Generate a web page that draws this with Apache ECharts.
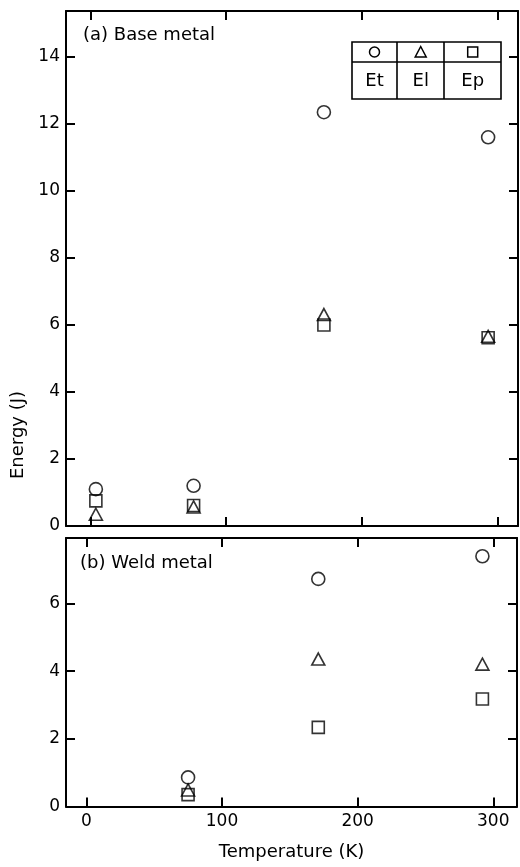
<!DOCTYPE html>
<html><head><meta charset="utf-8">
<script src="https://cdn.jsdelivr.net/npm/echarts@6/dist/echarts.min.js"></script>
<style>html,body{margin:0;padding:0;background:#fff}#c{width:520px;height:867px}</style>
</head><body><div id="c"></div>
<script>
// ---- data ----
const tempsA = [4, 76, 172, 293];          // (a) Base metal, temperature (K)
const EtA    = [1.1, 1.2, 12.35, 11.6];
const ElA    = [0.35, 0.57, 6.31, 5.66];
const EpA    = [0.75, 0.61, 6.0, 5.62];
const tempsB = [75, 171, 292];             // (b) Weld metal
const EtB    = [0.86, 6.73, 7.4];
const ElB    = [0.49, 4.36, 4.21];
const EpB    = [0.35, 2.34, 3.18];
const xTickStep = 100;
const yTickStepA = 2;
const yTickStepB = 2;
const legendNames = ['Et', 'El', 'Ep'];

const FONT = 'DejaVu Sans';
const pair = (xs, ys) => xs.map((x, i) => [x, ys[i]]);
const isMul = (v, s) => Math.abs(v / s - Math.round(v / s)) < 1e-6;

const lineStyle = {color: '#000', width: 2};
function xAx(grid, pos, min, max, showLabel, extra) {
  return Object.assign({
    type: 'value', gridIndex: grid, position: pos, min, max,
    splitNumber: 3, minInterval: xTickStep, maxInterval: xTickStep,
    axisLine: {show: true, onZero: false, lineStyle},
    axisTick: {show: true, inside: true, length: 9, lineStyle},
    axisLabel: {show: showLabel, color: '#000', fontFamily: FONT, fontSize: 17, margin: 7,
      formatter: v => isMul(v, xTickStep) ? String(Math.round(v)) : ''},
    splitLine: {show: false}
  }, extra || {});
}
function yAx(grid, pos, min, max, step, showLabel) {
  return {
    type: 'value', gridIndex: grid, position: pos, min, max, interval: step,
    axisLine: {show: true, onZero: false, lineStyle},
    axisTick: {show: true, inside: true, length: 9, lineStyle},
    axisLabel: {show: showLabel, color: '#000', fontFamily: FONT, fontSize: 17, margin: 6,
      formatter: v => isMul(v, step) ? String(Math.round(v)) : ''},
    splitLine: {show: false}
  };
}
const mk = {color: 'rgba(0,0,0,0)', borderColor: '#000', borderWidth: 1.6};
function sc(name, sym, size, data, xi, yi) {
  return {type: 'scatter', name, symbol: sym, symbolSize: size, data,
    xAxisIndex: xi, yAxisIndex: yi, itemStyle: mk, silent: true, animation: false};
}
const symSize = {circle: 13, triangle: [13, 12], rect: 12};

const legendX = [374.5, 420.7, 472.7];
const legendChildren = [
  {type: 'rect', shape: {x: 352, y: 42, width: 149, height: 57}, style: {fill: 'none', stroke: '#000', lineWidth: 1.6}},
  {type: 'line', shape: {x1: 352, y1: 62, x2: 501, y2: 62}, style: {stroke: '#000', lineWidth: 1.6}},
  {type: 'line', shape: {x1: 397, y1: 42, x2: 397, y2: 99}, style: {stroke: '#000', lineWidth: 1.6}},
  {type: 'line', shape: {x1: 444, y1: 42, x2: 444, y2: 99}, style: {stroke: '#000', lineWidth: 1.6}},
  {type: 'circle', shape: {cx: legendX[0], cy: 52, r: 5}, style: {fill: 'none', stroke: '#000', lineWidth: 1.5}},
  {type: 'polygon', shape: {points: [[legendX[1], 46.5], [legendX[1] - 5.5, 57], [legendX[1] + 5.5, 57]]}, style: {fill: 'none', stroke: '#000', lineWidth: 1.5}},
  {type: 'rect', shape: {x: legendX[2] - 5, y: 47, width: 10, height: 10}, style: {fill: 'none', stroke: '#000', lineWidth: 1.5}}
];
legendNames.forEach((n, i) => legendChildren.push({type: 'text', x: legendX[i], y: 81,
  style: {text: n, fill: '#000', font: '18px "' + FONT + '"', align: 'center', verticalAlign: 'middle'}}));

const option = {
  backgroundColor: '#fff',
  animation: false,
  grid: [
    {left: 66, top: 11, width: 452, height: 515},
    {left: 66, top: 538, width: 452, height: 268.5}
  ],
  xAxis: [
    xAx(0, 'bottom', -18, 315, false),
    xAx(0, 'top', -18, 315, false),
    xAx(1, 'bottom', -15, 317.5, true, {name: 'Temperature (K)', nameLocation: 'middle', nameGap: 37,
      nameTextStyle: {color: '#000', fontFamily: FONT, fontSize: 18}}),
    xAx(1, 'top', -15, 317.5, false)
  ],
  yAxis: [
    yAx(0, 'left', 0, 15.37, yTickStepA, true),
    yAx(0, 'right', 0, 15.37, yTickStepA, false),
    yAx(1, 'left', 0, 7.94, yTickStepB, true),
    yAx(1, 'right', 0, 7.94, yTickStepB, false)
  ],
  series: [
    sc('Et', 'circle', symSize.circle, pair(tempsA, EtA), 0, 0),
    sc('El', 'triangle', symSize.triangle, pair(tempsA, ElA), 0, 0),
    sc('Ep', 'rect', symSize.rect, pair(tempsA, EpA), 0, 0),
    sc('Et', 'circle', symSize.circle, pair(tempsB, EtB), 2, 2),
    sc('El', 'triangle', symSize.triangle, pair(tempsB, ElB), 2, 2),
    sc('Ep', 'rect', symSize.rect, pair(tempsB, EpB), 2, 2)
  ],
  graphic: [
    {type: 'text', x: 83, y: 35, style: {text: '(a) Base metal', fill: '#000', font: '18px "' + FONT + '"', verticalAlign: 'middle'}},
    {type: 'text', x: 80, y: 563, style: {text: '(b) Weld metal', fill: '#000', font: '18px "' + FONT + '"', verticalAlign: 'middle'}},
    {type: 'text', x: 18, y: 435, rotation: Math.PI / 2,
      style: {text: 'Energy (J)', fill: '#000', font: '18px "' + FONT + '"', align: 'center', verticalAlign: 'middle'}},
    {type: 'group', children: legendChildren}
  ]
};
const chart = echarts.init(document.getElementById('c'), null, {renderer: 'canvas'});
chart.setOption(option);
</script>
</body></html>
